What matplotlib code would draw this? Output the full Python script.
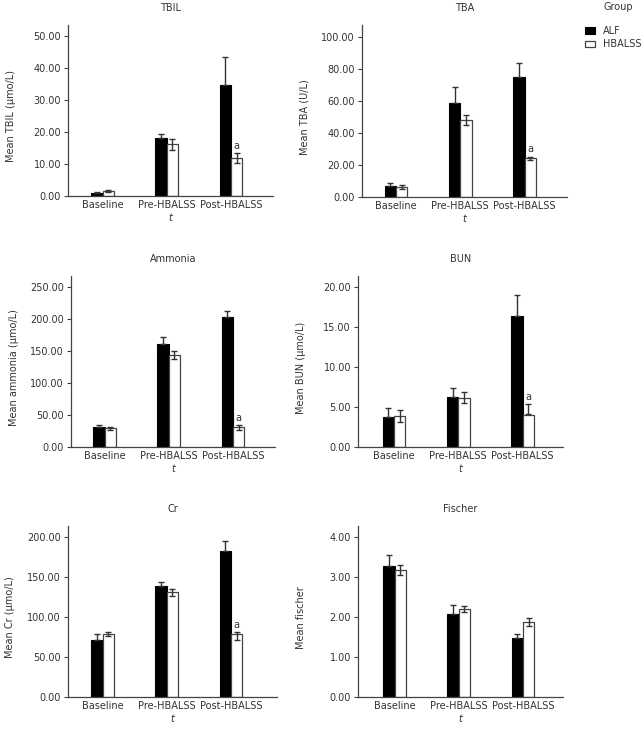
#IMPORTS---------------------------------------
from matplotlib import pyplot as plt
import numpy as np
#----------------------------------------------

#DATA------------------------------------------
groups = ["Baseline", "Pre-HBALSS", "Post-HBALSS"]

tbil_alf = [1.05, 18.2, 34.9]
tbil_alf_top = [1.3, 19.4, 43.5]
tbil_hb = [1.57, 16.3, 11.9]
tbil_hb_lo = [1.3, 14.4, 10.3]
tbil_hb_hi = [1.85, 17.8, 13.5]

tba_alf = [6.7, 58.3, 74.6]
tba_alf_top = [8.5, 68.7, 83.3]
tba_hb = [6.25, 47.9, 24.0]
tba_hb_lo = [4.9, 45.0, 23.0]
tba_hb_hi = [7.7, 50.8, 25.2]

amm_alf = [31.2, 161.0, 203.7]
amm_alf_top = [34.3, 172.5, 213.6]
amm_hb = [29.1, 144.0, 30.7]
amm_hb_lo = [26.5, 137.5, 27.0]
amm_hb_hi = [31.7, 150.7, 34.3]

bun_alf = [3.7, 6.33, 16.4]
bun_alf_top = [4.83, 7.4, 19.1]
bun_hb = [3.9, 6.2, 4.0]
bun_hb_lo = [3.1, 5.5, 4.15]
bun_hb_hi = [4.6, 6.9, 5.35]

cr_alf = [71.4, 138.6, 182.6]
cr_alf_top = [79.3, 144.0, 195.4]
cr_hb = [79.5, 131.5, 79.6]
cr_hb_lo = [77.0, 127.0, 71.0]
cr_hb_hi = [81.8, 135.7, 81.3]

fis_alf = [3.275, 2.09, 1.475]
fis_alf_top = [3.56, 2.31, 1.58]
fis_hb = [3.18, 2.21, 1.88]
fis_hb_lo = [3.06, 2.14, 1.78]
fis_hb_hi = [3.31, 2.28, 1.98]
#----------------------------------------------

#CONFIGS---------------------------------------
W, H = 644, 733
FS = 7
TXT = '#333333'
plt.rcParams['font.family'] = ['DejaVu Sans']
plt.rcParams['font.size'] = FS
#----------------------------------------------

fig = plt.figure(figsize=(W/100, H/100), dpi=100)

def add_ax(l, r, b, t):
  return fig.add_axes([l/W, 1-b/H, (r-l)/W, (b-t)/H])

# (title, ylabel, alf, alf_top, hb, hb_lo, hb_hi, ymax, step, box, first-center px, mark 'a')
panels = [
  ("TBIL", "Mean TBIL (\u03bcmo/L)", tbil_alf, tbil_alf_top, tbil_hb, tbil_hb_lo, tbil_hb_hi, 50, 10, (68, 273, 196, 25), 34.5, True),
  ("TBA", "Mean TBA (U/L)", tba_alf, tba_alf_top, tba_hb, tba_hb_lo, tba_hb_hi, 100, 20, (362, 567, 197, 25), 34.0, True),
  ("Ammonia", "Mean ammonia (\u03bcmo/L)", amm_alf, amm_alf_top, amm_hb, amm_hb_lo, amm_hb_hi, 250, 50, (71, 275, 447, 276), 33.5, True),
  ("BUN", "Mean BUN (\u03bcmo/L)", bun_alf, bun_alf_top, bun_hb, bun_hb_lo, bun_hb_hi, 20, 5, (358, 563, 447, 276), 36.0, True),
  ("Cr", "Mean Cr (\u03bcmo/L)", cr_alf, cr_alf_top, cr_hb, cr_hb_lo, cr_hb_hi, 200, 50, (68, 277, 697, 526), 34.5, True),
  ("Fischer", "Mean fischer", fis_alf, fis_alf_top, fis_hb, fis_hb_lo, fis_hb_hi, 4, 1, (358, 563, 697, 526), 36.5, False),
]

x = np.arange(len(groups))
w = 0.177
PX = 64.3  # px per category

#DRAW PANELS-----------------------------------
for (title, ylab, alf, alf_top, hb, hb_lo, hb_hi, ymax, step, box, c0, mark) in panels:
  l, r, b, t = box
  ax = add_ax(l, r, b, t)
  alf = np.array(alf); hb = np.array(hb)
  alf_top = np.array(alf_top); hb_lo = np.array(hb_lo); hb_hi = np.array(hb_hi)

  bar_alf = ax.bar(x - w/2, alf, w, color='black', edgecolor='black', lw=0.8, label='ALF')
  bar_hb = ax.bar(x + w/2, hb, w, color='white', edgecolor='#444444', lw=0.9, label='HBALSS')

  ax.errorbar(x - w/2, alf, yerr=[np.zeros(len(x)), alf_top - alf], fmt='none',
              ecolor='#333333', elinewidth=1, capsize=2.5, capthick=1)
  mid = (hb_lo + hb_hi)/2
  ax.errorbar(x + w/2, mid, yerr=(hb_hi - hb_lo)/2, fmt='none',
              ecolor='#333333', elinewidth=1, capsize=2.5, capthick=1)

  if mark:
    ax.annotate('a', (x[2] + w/2, hb_hi[2]), xytext=(0, 1.5), textcoords='offset points',
                ha='center', va='bottom', fontsize=FS, color=TXT)

  ax.set_xlim(-c0/PX, (r - l - c0)/PX)
  ax.set_ylim(0, ymax*1.072)
  ticks = np.arange(0, ymax + step/2, step)
  ax.set_yticks(ticks)
  ax.set_yticklabels(['{0:.2f}'.format(v) for v in ticks])
  ax.set_xticks(x)
  ax.set_xticklabels(groups)

  for s in ['top', 'right']:
    ax.spines[s].set_visible(False)
  for s in ['left', 'bottom']:
    ax.spines[s].set_color('#444444')
    ax.spines[s].set_linewidth(0.9)
  ax.tick_params(axis='y', length=3, width=0.8, pad=2, colors='#444444', labelcolor=TXT, labelsize=FS)
  ax.tick_params(axis='x', length=0, pad=3, labelcolor=TXT, labelsize=FS)

  ax.set_title(title, fontsize=FS, color=TXT, pad=10)
  ax.set_xlabel('t', fontstyle='italic', fontsize=FS, color=TXT, labelpad=2)
  ax.set_ylabel(ylab, fontsize=FS, color=TXT)
  ax.yaxis.set_label_coords(-0.255, 0.465)
#-----------------------------------------------

#LEGEND----------------------------------------
fig.text(603/W, 1-7/H, 'Group', ha='left', va='center', fontsize=FS, color=TXT)
fig.legend(handles=[bar_alf, bar_hb], labels=['ALF', 'HBALSS'], loc='upper left',
           bbox_to_anchor=(585/W, 1-26/H), frameon=False, fontsize=FS,
           handlelength=1.0, handleheight=0.7, handletextpad=0.8,
           labelspacing=0.35, borderpad=0, borderaxespad=0, labelcolor=TXT)
#-----------------------------------------------

plt.savefig('out.png', dpi=100)
